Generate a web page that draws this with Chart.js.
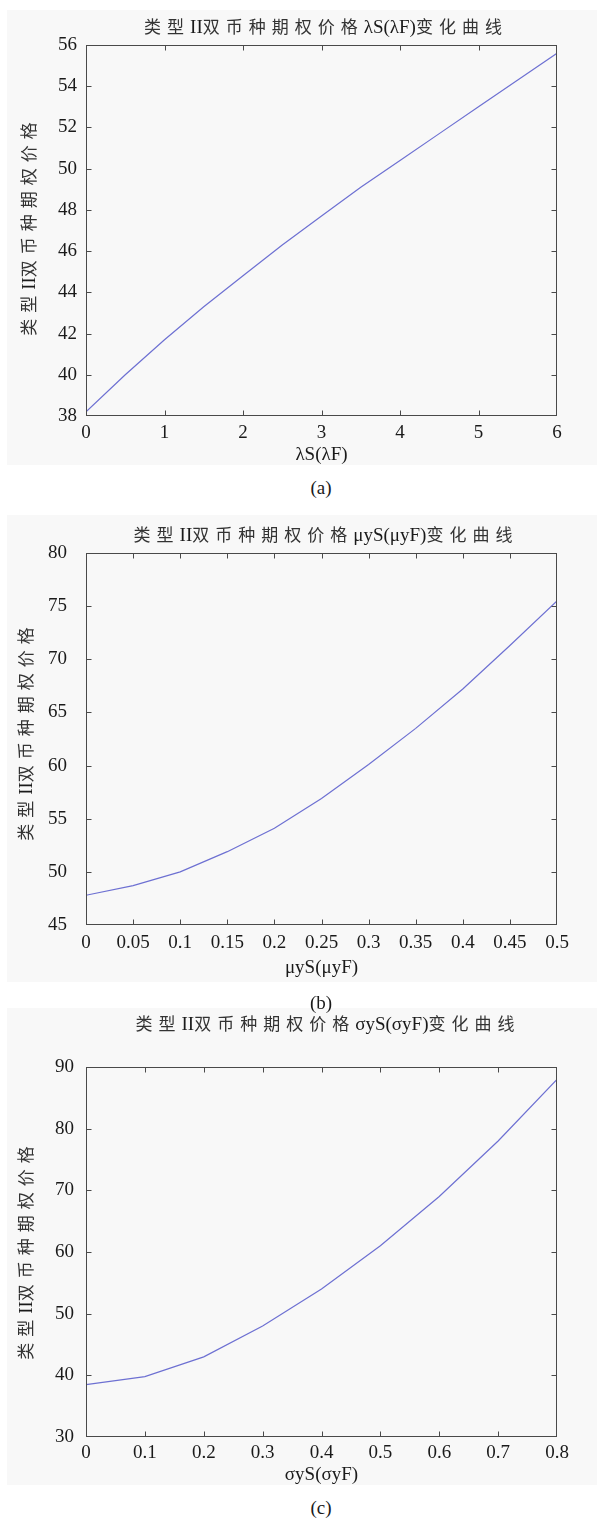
<!DOCTYPE html>
<html>
<head>
<meta charset="utf-8">
<script src="https://cdn.jsdelivr.net/npm/chart.js@4.4.1/dist/chart.umd.min.js"></script>
<style>
  body { margin: 0; background: #fff; width: 607px; height: 1521px; position: relative; overflow: hidden; }
  .panel { position: absolute; left: 7px; width: 590px; background: #f8f8f8; }
  canvas { position: absolute; left: 0; }
  .txt { position: absolute; font-family: "Liberation Serif", "Noto Sans CJK SC", serif; font-size: 19px; color: #1a1a1a; white-space: nowrap; transform: translate(-50%, -50%); }
  .cjk { letter-spacing: 6px; font-family: "Noto Sans CJK SC", sans-serif; font-size: 17px; color: #333; }
  .ytitle { transform: translate(-50%, -50%) rotate(-90deg); }
</style>
</head>
<body>
<div class="panel" style="top:10px;height:455px"></div>
<div class="panel" style="top:515px;height:467px"></div>
<div class="panel" style="top:1008px;height:477px"></div>

<canvas id="graficaA" width="607" height="470" style="top:0px"></canvas>
<canvas id="graficaB" width="607" height="480" style="top:500px"></canvas>
<canvas id="graficaC" width="607" height="490" style="top:1000px"></canvas>

<div class="txt" style="left:326px;top:25px"><span class="cjk">类型</span>II<span class="cjk">双币种期权价格</span>λS(λF)<span class="cjk">变化曲线</span></div>
<div class="txt" style="left:326px;top:533px"><span class="cjk">类型</span>II<span class="cjk">双币种期权价格</span>μyS(μyF)<span class="cjk">变化曲线</span></div>
<div class="txt" style="left:328px;top:1022px"><span class="cjk">类型</span>II<span class="cjk">双币种期权价格</span>σyS(σyF)<span class="cjk">变化曲线</span></div>

<div class="txt ytitle" style="left:27px;top:226px"><span class="cjk">类型</span>II<span class="cjk">双币种期权价格</span></div>
<div class="txt ytitle" style="left:24px;top:731px"><span class="cjk">类型</span>II<span class="cjk">双币种期权价格</span></div>
<div class="txt ytitle" style="left:24px;top:1250px"><span class="cjk">类型</span>II<span class="cjk">双币种期权价格</span></div>

<div class="txt" style="left:321px;top:488px">(a)</div>
<div class="txt" style="left:321px;top:1003px">(b)</div>
<div class="txt" style="left:321px;top:1508px">(c)</div>

<script>
// (a) λS(λF)
const lambdaX = [0, 0.5, 1, 1.5, 2, 2.5, 3, 3.5, 4, 4.5, 5, 5.5, 6];
const lambdaPrecio = [38.2, 40.0, 41.7, 43.3, 44.8, 46.3, 47.7, 49.1, 50.4, 51.7, 53.0, 54.3, 55.6];
// (b) μyS(μyF)
const muX = [0, 0.05, 0.1, 0.15, 0.2, 0.25, 0.3, 0.35, 0.4, 0.45, 0.5];
const muPrecio = [47.8, 48.7, 50.0, 51.9, 54.1, 56.9, 60.1, 63.5, 67.2, 71.3, 75.5];
// (c) σyS(σyF)
const sigmaX = [0, 0.1, 0.2, 0.3, 0.4, 0.5, 0.6, 0.7, 0.8];
const sigmaPrecio = [38.5, 39.8, 43.0, 48.0, 54.0, 61.0, 69.0, 78.0, 88.0];

const colorLinea = '#6d70d2';
const fuente = { family: '"Liberation Serif", serif', size: 19 };

// marco tipo matlab con ticks hacia dentro
const marcoTicks = {
  id: 'marcoTicks',
  afterDraw(chart) {
    const { ctx, chartArea: a, scales: { x, y } } = chart;
    const l = Math.round(a.left) + 0.5, r = Math.round(a.right) - 0.5;
    const t = Math.round(a.top) + 0.5, b = Math.round(a.bottom) - 0.5;
    ctx.save();
    ctx.strokeStyle = '#4a4a4a';
    ctx.lineWidth = 1;
    ctx.strokeRect(l, t, r - l, b - t);
    ctx.beginPath();
    x.ticks.forEach(tk => {
      const px = Math.round(x.getPixelForValue(tk.value)) + 0.5;
      if (px <= l + 1 || px >= r - 1) return;
      ctx.moveTo(px, b); ctx.lineTo(px, b - 5);
      ctx.moveTo(px, t); ctx.lineTo(px, t + 5);
    });
    y.ticks.forEach(tk => {
      const py = Math.round(y.getPixelForValue(tk.value)) + 0.5;
      if (py <= t + 1 || py >= b - 1) return;
      ctx.moveTo(l, py); ctx.lineTo(l + 5, py);
      ctx.moveTo(r, py); ctx.lineTo(r - 5, py);
    });
    ctx.stroke();
    ctx.restore();
  }
};

function crearGrafica(id, xs, ys, cfg) {
  const ctx = document.getElementById(id).getContext('2d');
  return new Chart(ctx, {
    type: 'line',
    data: {
      datasets: [{
        data: xs.map((v, i) => ({ x: v, y: ys[i] })),
        borderColor: colorLinea,
        borderWidth: 1.2,
        pointRadius: 0,
        fill: false,
        tension: 0
      }]
    },
    options: {
      responsive: false,
      animation: false,
      layout: { padding: { top: cfg.padTop, right: 50, left: 0, bottom: 0 } },
      plugins: { legend: { display: false }, tooltip: { enabled: false } },
      scales: {
        x: {
          type: 'linear',
          min: cfg.xMin, max: cfg.xMax,
          grid: { display: false, drawTicks: false },
          border: { display: false },
          ticks: {
            stepSize: cfg.xStep, autoSkip: false, maxRotation: 0,
            padding: cfg.xPad, color: '#1a1a1a', font: fuente,
            callback: v => String(+v.toFixed(2))
          },
          title: { display: true, text: cfg.xTitulo, color: '#1a1a1a', font: fuente, padding: cfg.titPad },
          afterFit: s => { s.height = cfg.xAlto; }
        },
        y: {
          min: cfg.yMin, max: cfg.yMax,
          grid: { display: false, drawTicks: false },
          border: { display: false },
          ticks: { stepSize: cfg.yStep, padding: cfg.yPad, color: '#1a1a1a', font: fuente },
          afterFit: s => { s.width = 86; }
        }
      }
    },
    plugins: [marcoTicks]
  });
}

crearGrafica('graficaA', lambdaX, lambdaPrecio, {
  padTop: 45, xMin: 0, xMax: 6, xStep: 1, yMin: 38, yMax: 56, yStep: 2,
  xPad: 6, yPad: 9, xAlto: 54, titPad: 4, xTitulo: 'λS(λF)'
});
crearGrafica('graficaB', muX, muPrecio, {
  padTop: 53, xMin: 0, xMax: 0.5, xStep: 0.05, yMin: 45, yMax: 80, yStep: 5,
  xPad: 7, yPad: 19, xAlto: 55, titPad: 1, xTitulo: 'μyS(μyF)'
});
crearGrafica('graficaC', sigmaX, sigmaPrecio, {
  padTop: 67, xMin: 0, xMax: 0.8, xStep: 0.1, yMin: 30, yMax: 90, yStep: 10,
  xPad: 5, yPad: 12, xAlto: 53, titPad: 4, xTitulo: 'σyS(σyF)'
});
</script>
</body>
</html>
